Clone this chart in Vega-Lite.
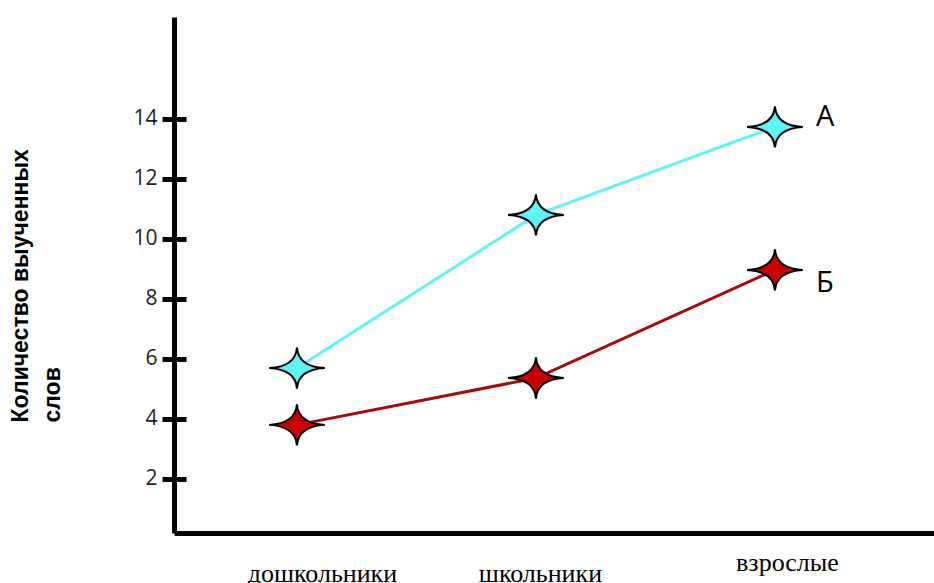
{
  "$schema": "https://vega.github.io/schema/vega-lite/v6.json",
  "width": 760,
  "height": 516,
  "autosize": {"type": "none"},
  "padding": {"left": 174, "top": 17, "right": 0, "bottom": 50},
  "background": "white",
  "config": {"view": {"stroke": null}},
  "data": {
    "values": [
      {"group": "дошкольники", "series": "А", "words": 5.69},
      {"group": "школьники", "series": "А", "words": 10.79},
      {"group": "взрослые", "series": "А", "words": 13.72},
      {"group": "дошкольники", "series": "Б", "words": 3.8},
      {"group": "школьники", "series": "Б", "words": 5.36},
      {"group": "взрослые", "series": "Б", "words": 8.96}
    ]
  },
  "resolve": {"axis": {"y": "independent"}},
  "encoding": {
    "x": {
      "field": "group",
      "type": "ordinal",
      "sort": ["дошкольники", "школьники", "взрослые"],
      "scale": {"type": "point", "padding": 0.59, "align": 0.436},
      "axis": {
        "title": null,
        "domain": true,
        "domainColor": "black",
        "domainWidth": 5,
        "ticks": false,
        "tickSize": 0,
        "grid": false,
        "labelAngle": 0,
        "labelFont": "Liberation Serif",
        "labelFontSize": 26,
        "labelColor": "black",
        "labelBaseline": "alphabetic",
        "labelAlign": "center",
        "labelOffset": {
          "condition": [
            {"test": "datum.value === 'дошкольники'", "value": 25},
            {"test": "datum.value === 'школьники'", "value": 4}
          ],
          "value": 12
        },
        "labelPadding": {
          "condition": {"test": "datum.value === 'взрослые'", "value": 37},
          "value": 48
        }
      }
    },
    "y": {
      "field": "words",
      "type": "quantitative",
      "scale": {"domain": [0.2, 17.38], "nice": false, "zero": false},
      "axis": null
    }
  },
  "layer": [
    {
      "mark": {"type": "line", "strokeWidth": 3},
      "encoding": {
        "y": {
          "field": "words",
          "type": "quantitative",
          "axis": {
            "orient": "left",
            "offset": -12,
            "values": [2, 4, 6, 8, 10, 12, 14],
            "grid": false,
            "domain": false,
            "ticks": true,
            "tickColor": "black",
            "tickWidth": 5,
            "tickSize": 24,
            "labelFont": "Open Sans",
            "labelFontSize": 21,
            "labelColor": "#222222",
            "labelPadding": 5,
            "title": ["Количество  выученных", "слов"],
            "titleFont": "Liberation Sans",
            "titleFontWeight": "bold",
            "titleFontSize": 23,
            "titleColor": "black",
            "titleAngle": -90,
            "titleAlign": "left",
            "titleBaseline": "alphabetic",
            "titleLineHeight": 32,
            "titleX": -159,
            "titleY": 405
          }
        },
        "stroke": {
          "field": "series",
          "type": "nominal",
          "scale": {"domain": ["А", "Б"], "range": ["#5ff5f5", "#a30c0c"]},
          "legend": null
        }
      }
    },
    {
      "mark": {
        "type": "point",
        "shape": "M-1,0Q-0.05,-0.05,0,-0.74Q0.05,-0.05,1,0Q0.05,0.05,0,0.74Q-0.05,0.05,-1,0Z",
        "size": 3100,
        "filled": true,
        "opacity": 1,
        "fillOpacity": 1,
        "stroke": "black",
        "strokeWidth": 2
      },
      "encoding": {
        "y": {
          "field": "words",
          "type": "quantitative",
          "axis": {
            "orient": "left",
            "domain": true,
            "domainColor": "black",
            "domainWidth": 5,
            "ticks": false,
            "labels": false,
            "grid": false,
            "title": null
          }
        },
        "fill": {
          "field": "series",
          "type": "nominal",
          "scale": {"domain": ["А", "Б"], "range": ["#5cf4f4", "#cc0000"]},
          "legend": null
        }
      }
    },
    {
      "transform": [{"filter": "datum.series === 'А' && datum.group === 'взрослые'"}],
      "mark": {"type": "text", "align": "left", "baseline": "middle", "dx": 41, "dy": -10, "font": "Open Sans", "fontSize": 29, "color": "black"},
      "encoding": {"text": {"field": "series"}}
    },
    {
      "transform": [{"filter": "datum.series === 'Б' && datum.group === 'взрослые'"}],
      "mark": {"type": "text", "align": "left", "baseline": "middle", "dx": 41, "dy": 13, "font": "Open Sans", "fontSize": 29, "color": "black"},
      "encoding": {"text": {"field": "series"}}
    }
  ]
}
